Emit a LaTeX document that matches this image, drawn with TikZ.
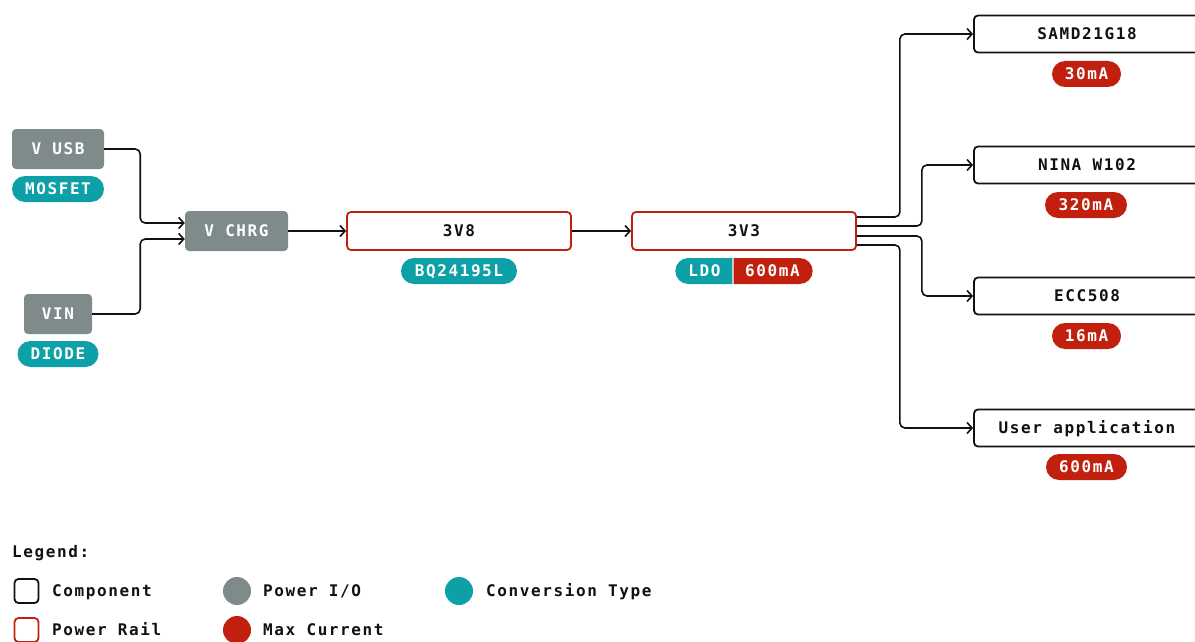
\documentclass[tikz,border=0pt]{standalone}
\usepackage{fontspec}
\usetikzlibrary{arrows.meta,shapes.misc}
\newfontfamily\dmono[LetterSpace=10]{DejaVu Sans Mono}
\definecolor{pgray}{HTML}{7F8B8B}
\definecolor{pteal}{HTML}{0DA0A6}
\definecolor{pred}{HTML}{C1200E}
\definecolor{ink}{HTML}{111111}
\tikzset{
 base/.style={font=\dmono\bfseries\fontsize{16}{18}\selectfont, inner sep=0pt, text height=11.5pt, text depth=0pt},
 iobox/.style={base, fill=pgray, text=white, rounded corners=4pt, minimum height=40pt},
 railbox/.style={base, draw=pred, line width=1.8pt, fill=white, text=ink, rounded corners=4pt, minimum width=224pt, minimum height=38pt},
 compbox/.style={base, draw=ink, line width=1.8pt, fill=white, text=ink, rounded corners=4pt, minimum width=226pt, minimum height=37pt},
 pill/.style={base, rounded rectangle, text=white, minimum height=26pt},
 conv/.style={pill, fill=pteal},
 maxc/.style={pill, fill=pred},
 conn/.style={draw=ink, line width=1.6pt, rounded corners=5pt, -{Straight Barb[length=5pt,width=11pt]}},
 legtext/.style={base, anchor=west, text=ink},
}
\begin{document}
\begin{tikzpicture}[x=1pt,y=-1pt]
\path[use as bounding box, clip] (0,0) rectangle (1195,642);
% power I/O
\node[iobox, minimum width=92pt] (vusb) at (58,149) {V USB};
\node[conv, minimum width=92pt] (mosfet) at (58,189) {MOSFET};
\node[iobox, minimum width=68pt] (vin) at (58,314) {VIN};
\node[conv, minimum width=81pt] (diode) at (58,354) {DIODE};
\node[iobox, minimum width=103pt] (vchrg) at (236.5,231) {V CHRG};
% rails
\node[railbox] (v38) at (459,231) {3V8};
\node[conv, minimum width=116pt] (bq) at (459,271) {BQ24195L};
\node[railbox] (v33) at (744,231) {3V3};
\node[conv, rounded rectangle right arc=none, minimum width=57pt] (ldo) at (704.5,271) {LDO};
\node[maxc, rounded rectangle left arc=none, minimum width=79pt] (ldoma) at (772.5,271) {600mA};
% components
\node[compbox] (samd) at (1087,34) {SAMD21G18};
\node[maxc, minimum width=69pt] (samdma) at (1086.5,74) {30mA};
\node[compbox] (nina) at (1087,165) {NINA W102};
\node[maxc, minimum width=82pt] (ninama) at (1086,205) {320mA};
\node[compbox] (ecc) at (1087,296) {ECC508};
\node[maxc, minimum width=69pt] (eccma) at (1086.5,336) {16mA};
\node[compbox] (user) at (1087,428) {User application};
\node[maxc, minimum width=81pt] (userma) at (1086.5,467) {600mA};
% connectors
\draw[conn] (vusb.east) -- ++(36,0) |- ([yshift=8pt]vchrg.west);
\draw[conn] (vin.east) -- ++(48,0) |- ([yshift=-8pt]vchrg.west);
\draw[conn] (vchrg.east) -- (v38.west);
\draw[conn] (v38.east) -- (v33.west);
\draw[conn] ([yshift=14pt]v33.east) -- ++(43,0) |- (samd.west);
\draw[conn] ([yshift=5pt]v33.east) -- ++(65,0) |- (nina.west);
\draw[conn] ([yshift=-5pt]v33.east) -- ++(65,0) |- (ecc.west);
\draw[conn] ([yshift=-14pt]v33.east) -- ++(43,0) |- (user.west);
% legend
\node[legtext] (legend) at (12,552) {Legend:};
\node[draw=ink, line width=1.8pt, rounded corners=4pt, minimum size=24pt, inner sep=0pt] (lcomp) at (26.5,591) {};
\node[legtext] (lcompt) at (52,591) {Component};
\node[draw=pred, line width=1.8pt, rounded corners=4pt, minimum size=24pt, inner sep=0pt] (lrail) at (26.5,630) {};
\node[legtext] (lrailt) at (52,630) {Power Rail};
\node[circle, fill=pgray, minimum size=28pt, inner sep=0pt] (lio) at (237,591) {};
\node[legtext] (liot) at (263,591) {Power I/O};
\node[circle, fill=pred, minimum size=28pt, inner sep=0pt] (lmax) at (237,630) {};
\node[legtext] (lmaxt) at (263,630) {Max Current};
\node[circle, fill=pteal, minimum size=28pt, inner sep=0pt] (lconv) at (459,591) {};
\node[legtext] (lconvt) at (486,591) {Conversion Type};
\end{tikzpicture}
\end{document}
